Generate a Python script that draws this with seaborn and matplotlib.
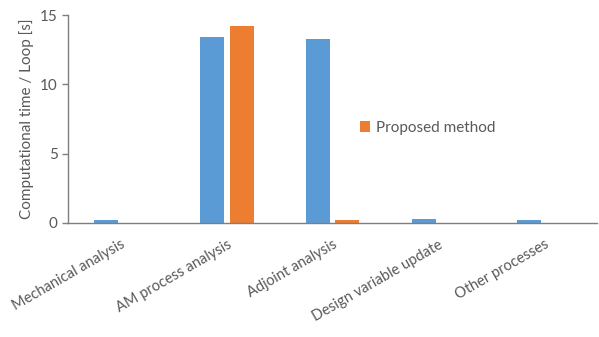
import pandas as pd
import matplotlib.pyplot as plt
import matplotlib.transforms as mtransforms
import seaborn as sns

# Data
processes = ["Mechanical analysis", "AM process analysis", "Adjoint analysis",
             "Design variable update", "Other processes"]
conventional = [0.22, 13.4, 13.3, 0.29, 0.22]
proposed = [0.0, 14.2, 0.22, 0.0, 0.0]
methods = ["Conventional method", "Proposed method"]

df = pd.DataFrame({
    "process": processes * 2,
    "time": conventional + proposed,
    "method": [methods[0]] * 5 + [methods[1]] * 5,
})

sns.set_style("white")
plt.rcParams["font.family"] = ["Lato", "DejaVu Sans"]
grey = "#595959"

fig = plt.figure(figsize=(5.99, 3.37), dpi=100)
ax = fig.add_axes([0.1135, 0.339, 0.8835, 0.616])

sns.barplot(data=df, x="process", y="time", hue="method",
            palette=["#5B9BD5", "#ED7D31"], saturation=1, width=0.56,
            gap=0.19, edgecolor="none", ax=ax)

ax.set_ylim(0, 15)
ax.set_xlim(-0.5, 4.5)
ax.set_yticks([0, 5, 10, 15])
ax.set_xlabel("")
ax.set_ylabel("Computational time / Loop [s]", color=grey, fontsize=11)

for s in ["top", "right"]:
    ax.spines[s].set_visible(False)
for s in ["left", "bottom"]:
    ax.spines[s].set_color("#7F7F7F")
    ax.spines[s].set_linewidth(1.0)

ax.tick_params(axis="y", colors=grey, labelsize=11, length=4, width=1,
               direction="out", left=True, color="#7F7F7F")
ax.tick_params(axis="x", colors=grey, labelsize=10.5, length=0)
shift = mtransforms.ScaledTranslation(0, -10 / 100, fig.dpi_scale_trans)
for lab in ax.get_xticklabels():
    lab.set_rotation(30)
    lab.set_ha("right")
    lab.set_va("top")
    lab.set_rotation_mode("anchor")
    lab.set_transform(lab.get_transform() + shift)

# Only the orange series appears in the legend
handles, labels = ax.get_legend_handles_labels()
ax.legend([handles[1]], [labels[1]], loc="center left",
          bbox_to_anchor=(0.525, 0.456), frameon=False, handlelength=0.7,
          handleheight=0.7, handletextpad=0.4, fontsize=11,
          labelcolor=grey)

fig.savefig("out.png", dpi=100)
